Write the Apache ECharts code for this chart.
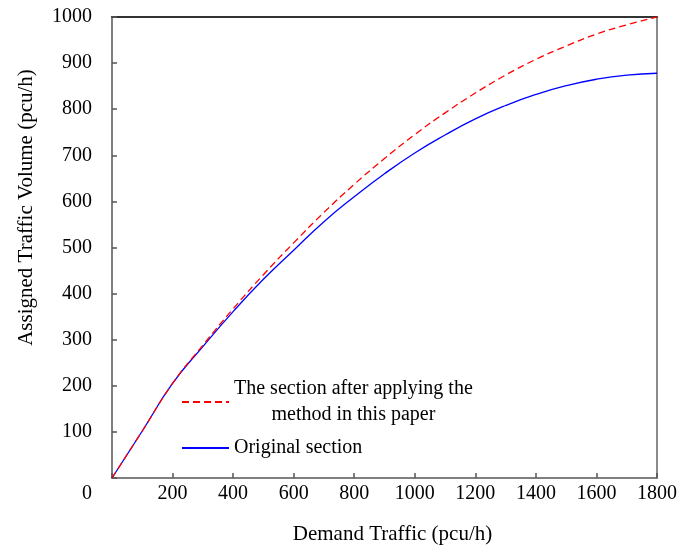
<!DOCTYPE html>
<html>
<head>
<meta charset="utf-8">
<script src="https://cdn.jsdelivr.net/npm/echarts@6/dist/echarts.min.js"></script>
<style>
html,body{margin:0;padding:0;background:#fff;}
#chart{width:680px;height:548px;}
</style>
</head>
<body>
<div id="chart"></div>
<script>
// Demand traffic (pcu/h)
var demand = [0, 100, 200, 300, 400, 500, 600, 700, 800, 900, 1000, 1100, 1200, 1300, 1400, 1500, 1600, 1700, 1800];
// Assigned traffic volume: section after applying the method (red dashed)
var improved = [0, 102, 205, 288, 367, 441, 510, 576, 637, 693, 745, 792, 835, 874, 908, 937, 963, 983, 1000];
// Assigned traffic volume: original section (blue solid)
var original = [0, 102, 205, 285, 361, 431, 494, 556, 610, 660, 705, 744, 779, 808, 832, 851, 865, 874, 878];
var seriesNames = ['The section after applying the method in this paper', 'Original section'];

function pairs(xs, ys) { return xs.map(function (x, i) { return [x, ys[i]]; }); }

var FONT = '"Liberation Serif", "DejaVu Serif", serif';
var chart = echarts.init(document.getElementById('chart'));
chart.setOption({
  backgroundColor: '#ffffff',
  animation: false,
  textStyle: { fontFamily: FONT, color: '#000' },
  grid: { left: 112, top: 17, right: 23, bottom: 70, containLabel: false, outerBoundsMode: 'none' },
  legend: {
    orient: 'vertical',
    left: 181,
    top: 379,
    padding: 0,
    itemWidth: 47,
    itemHeight: 10,
    itemGap: 13,
    data: seriesNames,
    itemStyle: { opacity: 0 },
    formatter: function (name) {
      if (name === seriesNames[0]) {
        return '{c|The section after applying the}\n{c|method in this paper}';
      }
      return '{l|' + name + '}';
    },
    textStyle: {
      fontFamily: FONT, fontSize: 20, color: '#000',
      rich: {
        c: { align: 'center', fontFamily: FONT, fontSize: 20, lineHeight: 26, color: '#000' },
        l: { fontFamily: FONT, fontSize: 20, lineHeight: 26, color: '#000' }
      }
    }
  },
  xAxis: [{
    type: 'value', min: 0, max: 1800, interval: 200,
    name: 'Demand Traffic (pcu/h)', nameLocation: 'middle', nameGap: 46,
    nameTextStyle: { fontFamily: FONT, fontSize: 21, color: '#000', padding: [0, 0, 0, 16] },
    axisLine: { show: true, lineStyle: { color: '#7f7f7f', width: 2 } },
    axisTick: { show: true, inside: true, length: 5, lineStyle: { color: '#555', width: 1.5 } },
    axisLabel: {
      fontFamily: FONT, fontSize: 20, color: '#000', margin: 6,
      formatter: function (v) { return v === 0 ? '' : String(v); }
    },
    splitLine: { show: false }
  }, {
    type: 'value', min: 0, max: 1800, position: 'top',
    axisLine: { show: true, onZero: false, lineStyle: { color: '#333', width: 2 } },
    axisTick: { show: false }, axisLabel: { show: false }, splitLine: { show: false }
  }],
  yAxis: [{
    type: 'value', min: 0, max: 1000, interval: 100,
    name: 'Assigned Traffic Volume (pcu/h)', nameLocation: 'middle', nameGap: 75, nameRotate: 90,
    nameTextStyle: { fontFamily: FONT, fontSize: 21, color: '#000', padding: [0, 0, 0, 80] },
    axisLine: { show: true, lineStyle: { color: '#7f7f7f', width: 2 } },
    axisTick: { show: true, inside: true, length: 5, lineStyle: { color: '#555', width: 1.5 } },
    axisLabel: {
      fontFamily: FONT, fontSize: 20, color: '#000', margin: 20,
      formatter: function (v) { return v === 0 ? '{z|0}' : String(v); },
      rich: { z: { fontFamily: FONT, fontSize: 20, color: '#000', padding: [32, 0, 0, 0] } }
    },
    splitLine: { show: false }
  }, {
    type: 'value', min: 0, max: 1000, position: 'right',
    axisLine: { show: true, onZero: false, lineStyle: { color: '#8a8a8a', width: 2 } },
    axisTick: { show: false }, axisLabel: { show: false }, splitLine: { show: false }
  }],
  series: [{
    name: seriesNames[0],
    type: 'line',
    data: pairs(demand, improved),
    smooth: true,
    symbol: 'none',
    z: 3,
    lineStyle: { color: '#ff0000', width: 1.3, type: [7, 4] },
    itemStyle: { color: '#ff0000' }
  }, {
    name: seriesNames[1],
    type: 'line',
    data: pairs(demand, original),
    smooth: true,
    symbol: 'none',
    z: 2,
    lineStyle: { color: '#0000ff', width: 1.3 },
    itemStyle: { color: '#0000ff' }
  }]
});
</script>
</body>
</html>
